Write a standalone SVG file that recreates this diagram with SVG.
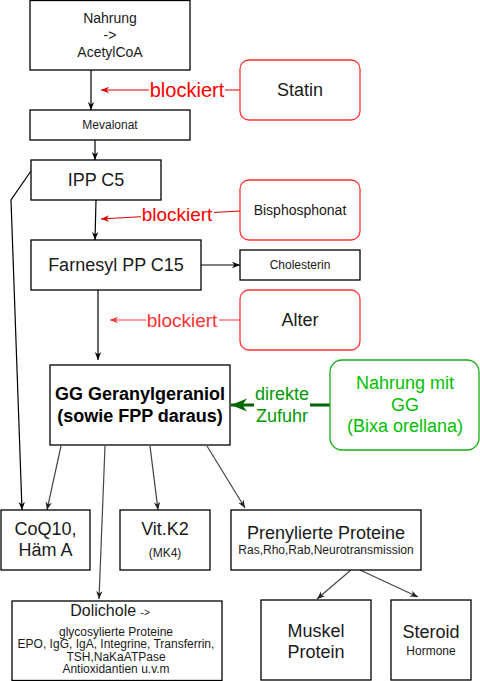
<svg xmlns="http://www.w3.org/2000/svg" width="480" height="681" viewBox="0 0 480 681">
<defs>
<style>
.box{fill:#fff;stroke:#000;stroke-width:1.3}
.red{fill:#fff;stroke:#ff3333;stroke-width:1.3}
.grn{fill:#fff;stroke:#1aad1a;stroke-width:1.3}
text{font-family:"Liberation Sans",Arial,sans-serif;text-anchor:middle;fill:#1a1a1a}
.e{fill:none;stroke:#000;stroke-width:1.2}
.g{fill:none;stroke:#444;stroke-width:1.2}
.r1{fill:none;stroke:#dd0000;stroke-width:1.2}
.r2{fill:none;stroke:#ff3333;stroke-width:1.2}
.lbl{fill:#fff;stroke:none}
</style>
<marker id="ak" viewBox="0 0 10 10" refX="10" refY="5" markerWidth="8" markerHeight="8" markerUnits="userSpaceOnUse" orient="auto"><path d="M0,1 L10,5 L0,9 L3,5 z" fill="#000"/></marker>
<marker id="ag" viewBox="0 0 10 10" refX="10" refY="5" markerWidth="8" markerHeight="8" markerUnits="userSpaceOnUse" orient="auto"><path d="M0,1 L10,5 L0,9 L3,5 z" fill="#222"/></marker>
<marker id="ar1" viewBox="0 0 10 10" refX="10" refY="5" markerWidth="8" markerHeight="8" markerUnits="userSpaceOnUse" orient="auto"><path d="M0,1 L10,5 L0,9 L3,5 z" fill="#dd0000"/></marker>
<marker id="ar2" viewBox="0 0 10 10" refX="10" refY="5" markerWidth="8" markerHeight="8" markerUnits="userSpaceOnUse" orient="auto"><path d="M0,1 L10,5 L0,9 L3,5 z" fill="#ff3333"/></marker>
<marker id="agr" viewBox="0 0 10 10" refX="10" refY="5" markerWidth="16" markerHeight="16" markerUnits="userSpaceOnUse" orient="auto"><path d="M0,1 L10,5 L0,9 L3,5 z" fill="#006600"/></marker>
</defs>

<g id="connectors">
<line class="e" x1="91" y1="70" x2="91" y2="110" marker-end="url(#ak)"/>
<line class="e" x1="95" y1="140" x2="95" y2="160" marker-end="url(#ak)"/>
<line class="e" x1="96" y1="200" x2="95" y2="240" marker-end="url(#ak)"/>
<line class="e" x1="201" y1="265" x2="240" y2="265" marker-end="url(#ak)"/>
<line class="e" x1="98" y1="290" x2="98" y2="360" marker-end="url(#ak)"/>
<polyline class="e" points="31,171 11,200 22,510" marker-end="url(#ak)"/>
<line class="g" x1="61" y1="446" x2="47" y2="510" marker-end="url(#ag)"/>
<line class="g" x1="105" y1="446" x2="99" y2="599" marker-end="url(#ag)"/>
<line class="g" x1="150" y1="446" x2="158" y2="510" marker-end="url(#ag)"/>
<line class="g" x1="207" y1="446" x2="245" y2="508" marker-end="url(#ag)"/>
<line class="g" x1="351" y1="570" x2="317" y2="599" marker-end="url(#ag)"/>
<line class="g" x1="360" y1="570" x2="418" y2="597" marker-end="url(#ag)"/>
<line class="r1" x1="240" y1="90" x2="101" y2="90" marker-end="url(#ar1)"/>
<rect class="lbl" x="149" y="78" width="76" height="24"/>
<text x="187" y="97" font-size="20" style="fill:#ff0000">blockiert</text>
<line class="r1" x1="240" y1="211" x2="101" y2="219" marker-end="url(#ar1)"/>
<rect class="lbl" x="141" y="202" width="73" height="23"/>
<text x="177" y="221" font-size="19" style="fill:#ff0000">blockiert</text>
<line class="r2" x1="240" y1="320" x2="110" y2="320" marker-end="url(#ar2)"/>
<rect class="lbl" x="146" y="308" width="73" height="23"/>
<text x="182" y="327" font-size="19" style="fill:#ff3333">blockiert</text>
<line x1="330" y1="405" x2="231" y2="405" stroke="#006600" stroke-width="3" marker-end="url(#agr)"/>
<rect class="lbl" x="254" y="382" width="56" height="44"/>
<text x="282" y="400" font-size="18" style="fill:#009900">direkte</text>
<text x="282" y="422" font-size="18" style="fill:#009900">Zufuhr</text>
</g>

<g id="nahrung"><rect class="box" x="30" y="0.5" width="160" height="69.5"/>
<text x="110" y="23" font-size="14">Nahrung</text>
<text x="110" y="40" font-size="14">-&gt;</text>
<text x="110" y="57" font-size="14">AcetylCoA</text></g>

<g id="mevalonat"><rect class="box" x="30" y="110" width="160" height="30"/>
<text x="110" y="129" font-size="12">Mevalonat</text></g>

<g id="ipp"><rect class="box" x="31" y="160" width="130" height="40"/>
<text x="96" y="186" font-size="18">IPP C5</text></g>

<g id="farnesyl"><rect class="box" x="31" y="240" width="170" height="50"/>
<text x="116" y="271" font-size="18">Farnesyl PP C15</text></g>

<g id="cholesterin"><rect class="box" x="240" y="250" width="120" height="30"/>
<text x="300" y="269" font-size="12">Cholesterin</text></g>

<g id="statin"><rect class="red" x="240" y="60" width="120" height="60" rx="9"/>
<text x="300" y="96" font-size="18">Statin</text></g>

<g id="bisphosphonat"><rect class="red" x="240" y="180" width="120" height="60" rx="9"/>
<text x="300" y="215" font-size="14">Bisphosphonat</text></g>

<g id="alter"><rect class="red" x="240" y="290" width="120" height="60" rx="9"/>
<text x="300" y="326" font-size="18">Alter</text></g>

<g id="gg"><rect class="box" x="50" y="365" width="180" height="80"/>
<text x="140" y="400" font-size="18" font-weight="bold" style="fill:#000">GG Geranylgeraniol</text>
<text x="140" y="422" font-size="18" font-weight="bold" style="fill:#000">(sowie FPP daraus)</text></g>

<g id="nahrung-gg"><rect class="grn" x="330" y="360" width="149" height="90" rx="12"/>
<text x="405" y="389" font-size="18" style="fill:#00c000">Nahrung mit</text>
<text x="405" y="411" font-size="18" style="fill:#00c000">GG</text>
<text x="405" y="432" font-size="18" style="fill:#00c000">(Bixa orellana)</text></g>

<g id="coq10"><rect class="box" x="1" y="510" width="89" height="60"/>
<text x="45.5" y="535" font-size="18">CoQ10,</text>
<text x="45.5" y="556" font-size="18">Häm A</text></g>

<g id="vitk2"><rect class="box" x="120" y="510" width="90" height="60"/>
<text x="165" y="535" font-size="18">Vit.K2</text>
<text x="165" y="557" font-size="12">(MK4)</text></g>

<g id="prenyl"><rect class="box" x="231" y="510" width="190" height="60"/>
<text x="326" y="539" font-size="18">Prenylierte Proteine</text>
<text x="326" y="554" font-size="12">Ras,Rho,Rab,Neurotransmission</text></g>

<g id="dolichole"><rect class="box" x="12" y="601" width="210" height="79.5"/>
<text x="110" y="616" font-size="16">Dolichole <tspan font-size="10">-&gt;</tspan></text>
<text x="116" y="635.5" font-size="12">glycosylierte Proteine</text>
<text x="116" y="648" font-size="12">EPO, IgG, IgA, Integrine, Transferrin,</text>
<text x="116" y="660.5" font-size="12">TSH,NaKaATPase</text>
<text x="116" y="673" font-size="12">Antioxidantien u.v.m</text></g>

<g id="muskel"><rect class="box" x="261" y="600" width="110" height="80"/>
<text x="316" y="637" font-size="18">Muskel</text>
<text x="316" y="658" font-size="18">Protein</text></g>

<g id="steroid"><rect class="box" x="391" y="600" width="80" height="80"/>
<text x="431" y="638" font-size="18">Steroid</text>
<text x="431" y="655" font-size="12">Hormone</text></g>
</svg>
